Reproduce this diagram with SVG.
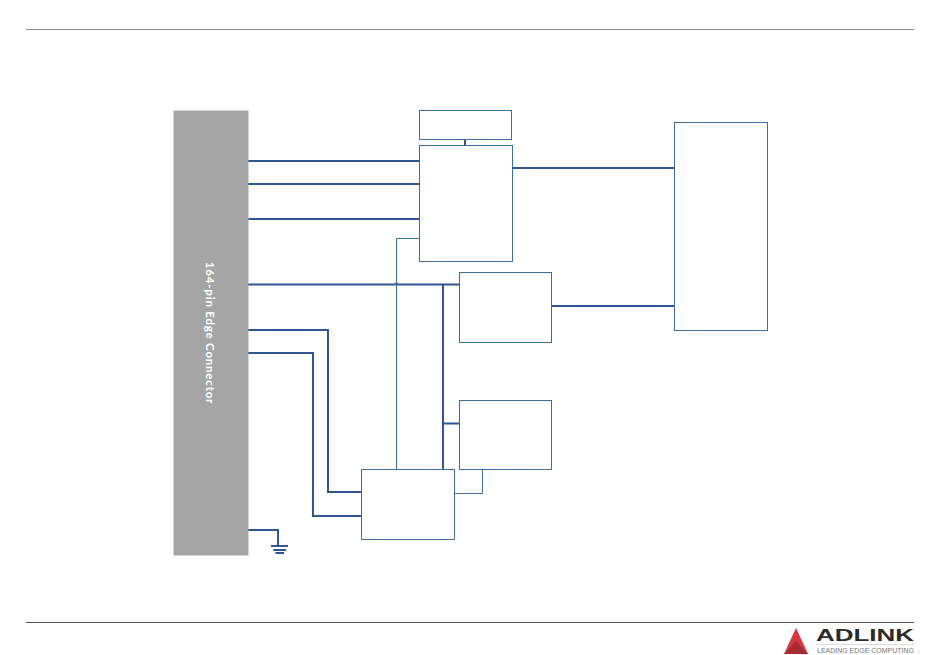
<svg xmlns="http://www.w3.org/2000/svg" width="950" height="655" viewBox="0 0 950 655">
<style>
.box{fill:#fff;stroke:#3c6e9f;stroke-width:1}
.thin{fill:none;stroke:#3c6e9f;stroke-width:1}
.bus{fill:none;stroke:#2f5597;stroke-width:2}
.rule{stroke:#8c8c8c;stroke-width:1}
</style>
<rect width="950" height="655" fill="#fff"/>
<g id="page-rules">
<line class="rule" x1="26" y1="29.500" x2="914" y2="29.500"/>
<line class="rule" x1="26" y1="622.500" x2="914" y2="622.500" style="stroke:#555"/>
</g>
<g id="connectors">
<path class="thin" d="M419.500 238.500H396.500V469.500"/>
<path class="thin" d="M455 493.500H482.500V469.500"/>
<path class="bus" d="M248 161H419M248 184H419M248 219H419M248 284.500H459M513 168H674M552 306H674"/>
<path class="bus" d="M465 138.500V145.500"/>
<path class="bus" d="M443 285V469.500M443 423.500H459"/>
<path class="bus" d="M248 330H328V492H361M248 353H313V516H361"/>
<path class="bus" d="M248 530H278V545"/>
<path class="bus" d="M271 546H288M273.500 550H286M275.500 553H284"/>
<path d="M393.500 285L396.500 281.500L399.500 285Z" fill="#3c6e9f"/>
</g>
<g id="edge-connector">
<rect x="173.500" y="110.500" width="75" height="445" fill="#a5a5a5"/>
<text transform="translate(206 333) rotate(90)" text-anchor="middle" font-family="Lato, 'Open Sans', sans-serif" font-size="11.500" font-weight="700" letter-spacing="0.800" fill="#fff">164-pin Edge Connector</text>
</g>
<g id="node-top"><rect class="box" x="419.500" y="110.500" width="92" height="29"/></g>
<g id="node-main"><rect class="box" x="419.500" y="145.500" width="93" height="116"/></g>
<g id="node-right"><rect class="box" x="674.500" y="122.500" width="93" height="208"/></g>
<g id="node-mid"><rect class="box" x="459.500" y="272.500" width="92" height="70"/></g>
<g id="node-lower"><rect class="box" x="459.500" y="400.500" width="92" height="69"/></g>
<g id="node-bottom"><rect class="box" x="361.500" y="469.500" width="93" height="70"/></g>
<g id="logo">
<path d="M796 628L808 654H784Z" fill="#d8343f"/>
<path d="M796 641L808 654H784Z" fill="#a82a35"/>
<text x="816" y="641" font-family="'Liberation Sans', Arial, sans-serif" font-size="17" font-weight="700" textLength="98" lengthAdjust="spacingAndGlyphs" fill="#2b2b2b">ADLINK</text>
<line x1="816" y1="644.500" x2="914" y2="644.500" stroke="#bbb" stroke-width="0.500"/>
<text x="817" y="653" font-family="'Liberation Sans', Arial, sans-serif" font-size="7" textLength="97" lengthAdjust="spacingAndGlyphs" fill="#777">LEADING EDGE COMPUTING</text>
</g>
</svg>
